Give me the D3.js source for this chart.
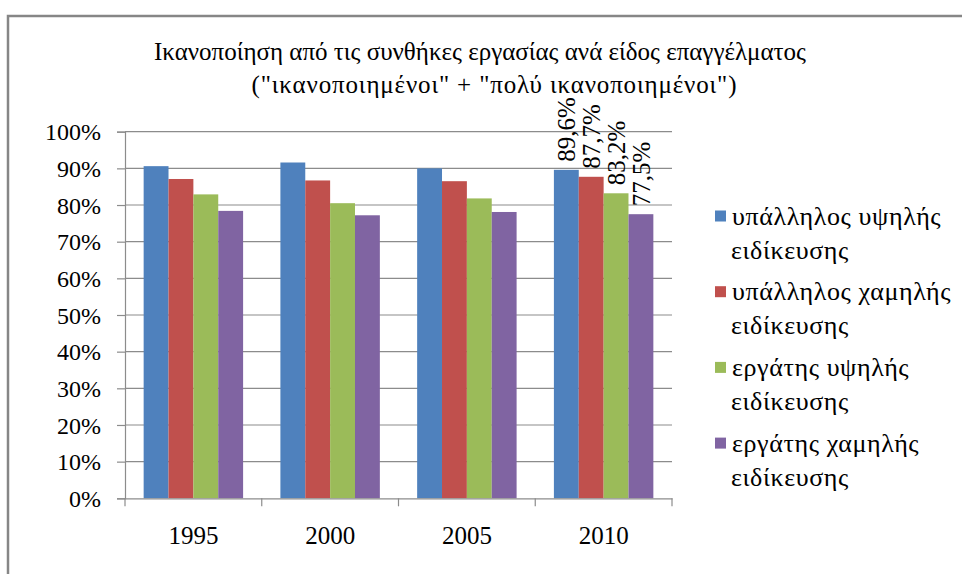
<!DOCTYPE html>
<html>
<head>
<meta charset="utf-8">
<script src="https://cdn.jsdelivr.net/npm/d3@7"></script>
<style>
    body { margin: 0; background: #fff; }
    svg text { font-family: "Liberation Serif", "DejaVu Serif", serif; fill: #000; }
</style>
</head>
<body>
<svg id="chart" width="962" height="574"></svg>
<script>

// data
var years = ["1995", "2000", "2005", "2010"]
var series = ["υπάλληλος υψηλής ειδίκευσης", "υπάλληλος χαμηλής ειδίκευσης", "εργάτης υψηλής ειδίκευσης", "εργάτης χαμηλής ειδίκευσης"]
var legendLines = [["υπάλληλος υψηλής", "ειδίκευσης"], ["υπάλληλος χαμηλής", "ειδίκευσης"], ["εργάτης υψηλής", "ειδίκευσης"], ["εργάτης χαμηλής", "ειδίκευσης"]]
var ypallHigh = [0.906, 0.916, 0.900, 0.896]
var ypallLow = [0.871, 0.867, 0.865, 0.877]
var ergHigh = [0.829, 0.805, 0.818, 0.832]
var ergLow = [0.784, 0.772, 0.781, 0.775]
var values = [ypallHigh, ypallLow, ergHigh, ergLow]
var colors = ["#4f81bd", "#c0504d", "#9bbb59", "#8064a2"]
var yTicks = [0, 0.1, 0.2, 0.3, 0.4, 0.5, 0.6, 0.7, 0.8, 0.9, 1]
var titleLines = ["Ικανοποίηση από τις συνθήκες εργασίας ανά είδος επαγγέλματος", "(\"ικανοποιημένοι\" + \"πολύ ικανοποιημένοι\")"]
var labelledYear = "2010"

var svg = d3.select("#chart")

// outer frame, runs off the right and bottom edges
svg.append("rect")
    .attr("x", 8).attr("y", 16)
    .attr("width", 1000).attr("height", 600)
    .attr("fill", "none")
    .attr("stroke", "#868686")
    .attr("stroke-width", 2.5)

var plotL = 125, plotR = 672, plotT = 131.7, plotB = 498.3

var x = d3.scaleBand().domain(years).range([plotL, plotR])
var barW = x.bandwidth() / 5.5
var inner = d3.scaleBand().domain(d3.range(series.length)).range([0, barW * 4])
var y = d3.scaleLinear().domain([0, 1]).range([plotB, plotT])

function barX(d) {
    return x(d.year) + (x.bandwidth() - barW * 4) / 2 + inner(d.s)
}

// gridlines
svg.append("g")
    .selectAll("line")
    .data(yTicks.slice(1))
    .enter()
    .append("line")
    .attr("x1", plotL).attr("x2", plotR)
    .attr("y1", d => y(d)).attr("y2", d => y(d))
    .attr("stroke", "#8c8c8c")
    .attr("stroke-width", 1.2)

// bars
var rows = []
years.forEach((yr, i) => {
    values.forEach((vals, s) => rows.push({ year: yr, s: s, v: vals[i] }))
})

svg.append("g")
    .selectAll("rect")
    .data(rows)
    .enter()
    .append("rect")
    .attr("x", barX)
    .attr("width", inner.bandwidth())
    .attr("y", d => y(d.v))
    .attr("height", d => plotB - y(d.v))
    .attr("fill", d => colors[d.s])

// y axis
var yAxis = svg.append("g")
    .attr("transform", "translate(" + plotL + ",0)")
    .call(d3.axisLeft(y).tickValues(yTicks).tickSize(8).tickPadding(16).tickFormat(d3.format(".0%")))
yAxis.select(".domain").attr("stroke", "#8c8c8c").attr("stroke-width", 1.2)
yAxis.selectAll(".tick line").attr("stroke", "#8c8c8c").attr("stroke-width", 1.2)
yAxis.selectAll("text").style("font-size", "24px").attr("dy", "0.34em")

// x axis
var xAxis = svg.append("g")
    .attr("transform", "translate(0," + plotB + ")")
    .call(d3.axisBottom(x).tickSize(0).tickPadding(28))
xAxis.select(".domain").attr("stroke", "#8c8c8c").attr("stroke-width", 1.2)
xAxis.selectAll("text").style("font-size", "25px")
svg.append("g")
    .selectAll("line")
    .data(years.concat(["end"]))
    .enter()
    .append("line")
    .attr("x1", (d, i) => plotL + i * x.step())
    .attr("x2", (d, i) => plotL + i * x.step())
    .attr("y1", plotB).attr("y2", plotB + 8)
    .attr("stroke", "#8c8c8c")
    .attr("stroke-width", 1.2)

// title (second line sits a little right, as in the original)
svg.append("g")
    .selectAll("text")
    .data(titleLines)
    .enter()
    .append("text")
    .attr("x", (d, i) => i == 0 ? 480 : 494)
    .attr("y", (d, i) => 60 + i * 33)
    .attr("text-anchor", "middle")
    .attr("textLength", (d, i) => i == 0 ? null : 485)
    .attr("lengthAdjust", "spacing")
    .style("font-size", "25px")
    .text(d => d)

// value labels on the last group
svg.append("g")
    .selectAll("text")
    .data(rows.filter(d => d.year == labelledYear))
    .enter()
    .append("text")
    .attr("transform", d => {
        var cx = barX(d) + inner.bandwidth() / 2
        return "translate(" + cx + "," + (y(d.v) - 8) + ") rotate(-90)"
    })
    .attr("dy", "0.35em")
    .style("font-size", "25px")
    .text(d => d3.format(".1f")(d.v * 100).replace(".", ",") + "%")

// legend
var leg = svg.append("g")
    .selectAll("g")
    .data(legendLines)
    .enter()
    .append("g")
    .attr("transform", (d, i) => "translate(715," + (210.5 + i * 75.7) + ")")
leg.append("rect")
    .attr("width", 11).attr("height", 11)
    .attr("fill", (d, i) => colors[i])
leg.selectAll("text")
    .data(d => d)
    .enter()
    .append("text")
    .attr("x", (d, i) => i == 0 ? 17 : 16)
    .attr("y", (d, i) => 14 + i * 34)
    .style("font-size", "26px")
    .style("letter-spacing", "0.6px")
    .text(d => d)

</script>
</body>
</html>
